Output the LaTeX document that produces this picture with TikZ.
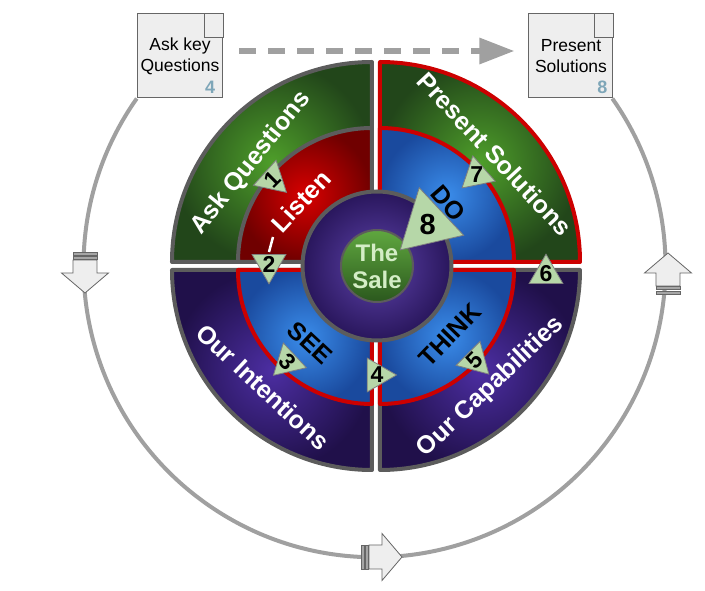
\documentclass[tikz,border=0pt]{standalone}
\usepackage{fontspec}
\setmainfont{Liberation Sans}
\usetikzlibrary{arrows.meta,shapes.geometric}
\definecolor{ringgray}{HTML}{A0A0A0}
\definecolor{edgegray}{HTML}{5C5C5C}
\definecolor{edgered}{HTML}{CC0000}
\definecolor{boxfill}{HTML}{EEEEEE}
\definecolor{boxline}{HTML}{666666}
\definecolor{stepnum}{HTML}{7EA6B8}
\definecolor{trifill}{HTML}{B6D7A8}
\definecolor{triline}{HTML}{808080}
\definecolor{salegreen}{HTML}{D4EDC6}
\definecolor{greenin}{HTML}{4E9E2A}
\definecolor{greenout}{HTML}{22461A}
\definecolor{redin}{HTML}{D80000}
\definecolor{redout}{HTML}{700000}
\definecolor{bluein}{HTML}{3A8CEA}
\definecolor{blueout}{HTML}{1A4A9E}
\definecolor{purplein}{HTML}{4C2EA2}
\definecolor{purpleout}{HTML}{20104A}

\tikzset{
  flowarrow/.pic={
    \draw[boxline, fill=boxfill, line width=0.8pt] (-13,-12) -- (0,-12) -- (0,-23.5) -- (20,0) -- (0,23.5) -- (0,12) -- (-13,12) -- cycle;
    \draw[boxline, fill=gray!70, line width=0.6pt] (-21,-12) rectangle (-18,12);
    \draw[boxline, fill=gray!70, line width=0.6pt] (-16.5,-12) rectangle (-13.5,12);
  }
}

\begin{document}
\begin{tikzpicture}[
  x=1pt, y=1pt,
  band/.style={line width=4pt, line join=round, shade},
  bandtext/.style={font=\fontsize{25}{28}\selectfont\bfseries, inner sep=0pt},
  notebox/.style={rectangle, draw=boxline, fill=boxfill, line width=1pt, minimum width=84pt, minimum height=84pt, align=center, font=\fontsize{17.5}{21}\selectfont},
  stepno/.style={text=stepnum, font=\fontsize{18}{18}\selectfont\bfseries, inner sep=0pt},
  tri/.style={regular polygon, regular polygon sides=3, draw=triline, fill=trifill, line width=0.8pt, minimum size=39pt, inner sep=0pt},
  digit/.style={font=\fontsize{23}{23}\selectfont\bfseries, inner sep=0pt},
  ringline/.style={ringgray, line width=4pt},
  dashflow/.style={ringgray, line width=6pt, dash pattern=on 17pt off 12pt, -{Triangle[length=35pt,width=25pt]}}
]
\useasboundingbox (-376,-325) rectangle (329,266);

% notes at the top
\node[notebox] (askbox) at (-196,210) {Ask key\\Questions};
\node[notebox] (presbox) at (195,210) {Present\\Solutions};
\draw[boxline, fill=boxfill, line width=1pt] (askbox.north east) rectangle ++(-19,-24);
\draw[boxline, fill=boxfill, line width=1pt] (presbox.north east) rectangle ++(-19,-24);
\node[stepno] (asknum) at ([shift={(-13,11)}]askbox.south east) {4};
\node[stepno] (presnum) at ([shift={(-11,11)}]presbox.south east) {8};
\draw[dashflow] ([shift={(16,5)}]askbox.east) -- ([shift={(-14,5)}]presbox.west);

% outer cycle
\draw[ringline] (askbox.south west) arc[start angle=144.8, end angle=395.2, radius=291];
\pic[rotate=-90] at (-291,-7) {flowarrow};
\pic[rotate=90] at (292,-7) {flowarrow};
\pic at (6,-291) {flowarrow};

% outer bands
\draw[band, draw=edgegray, inner color=greenin, outer color=greenout] (-4,4) -- ++(180:200) arc[start angle=180, end angle=90, radius=200] -- cycle;
\draw[band, draw=edgered, inner color=greenin, outer color=greenout] (4,4) -- ++(90:200) arc[start angle=90, end angle=0, radius=200] -- cycle;
\draw[band, draw=edgegray, inner color=purplein, outer color=purpleout] (-4,-4) -- ++(270:200) arc[start angle=270, end angle=180, radius=200] -- cycle;
\draw[band, draw=edgegray, inner color=purplein, outer color=purpleout] (4,-4) -- ++(0:200) arc[start angle=0, end angle=-90, radius=200] -- cycle;

% inner bands
\draw[band, draw=edgegray, inner color=redin, outer color=redout] (-4,4) -- ++(180:134) arc[start angle=180, end angle=90, radius=134] -- cycle;
\draw[band, draw=edgered, inner color=bluein, outer color=blueout] (4,4) -- ++(90:134) arc[start angle=90, end angle=0, radius=134] -- cycle;
\draw[band, draw=edgered, inner color=bluein, outer color=blueout] (-4,-4) -- ++(270:134) arc[start angle=270, end angle=180, radius=134] -- cycle;
\draw[band, draw=edgered, inner color=bluein, outer color=blueout] (4,-4) -- ++(0:134) arc[start angle=0, end angle=-90, radius=134] -- cycle;

% hub
\node[circle, draw=edgegray, line width=4pt, inner color=purplein!90, outer color=purpleout!80!purplein, minimum size=149pt] (hub) at (1,0) {};
\node[circle, draw=edgegray, line width=2pt, top color=greenin!90!white, bottom color=greenout!80!greenin, minimum size=72pt, inner sep=0pt, align=center, text=salegreen, font=\fontsize{24}{27}\selectfont\bfseries] (sale) at (1,0) {The\\Sale};

% band labels
\node[bandtext, text=white, rotate=51] (askq) at (-125,103) {Ask Questions};
\node[bandtext, text=white, rotate=-47] (pres) at (119,112) {Present Solutions};
\node[bandtext, text=white, rotate=-43] (intent) at (-113,-121) {Our Intentions};
\node[bandtext, text=white, rotate=43.5] (capab) at (115,-121) {Our Capabilities};
\node[bandtext, text=white, rotate=47] (listen) at (-75,65) {Listen};
\node[bandtext, rotate=-49] (doit) at (72,63) {DO};
\node[bandtext, rotate=-43] (see) at (-66,-77) {SEE};
\node[bandtext, rotate=46] (think) at (74,-69) {THINK};
\draw[white, line width=2.5pt] (-103,29) -- (-107,14);

% steps
\node[tri, regular polygon rotate=228] (t1) at (-104,86.7) {};
\node[digit, rotate=45] at (t1) {1};
\node[tri, regular polygon rotate=180] (t2) at (-107,1.7) {};
\node[digit] at (t2) {2};
\node[tri, regular polygon rotate=133] (t3) at (-88.3,-96) {};
\node[digit, rotate=-47] at (t3) {3};
\node[tri, regular polygon rotate=-90] (t4) at (1,-109) {};
\node[digit] at (t4) {4};
\node[tri, regular polygon rotate=225] (t5) at (99,-94.3) {};
\node[digit, rotate=45] at (t5) {5};
\node[tri, regular polygon rotate=0] (t6) at (170,-7.7) {};
\node[digit] at (t6) {6};
\node[tri, regular polygon rotate=131.5] (t7) at (100.7,91) {};
\node[digit] at (t7) {7};
\node[tri, regular polygon rotate=133, minimum size=75pt] (t8) at (51.7,41.7) {};
\node[digit, font=\fontsize{29}{29}\selectfont\bfseries] at (t8) {8};
\end{tikzpicture}
\end{document}
